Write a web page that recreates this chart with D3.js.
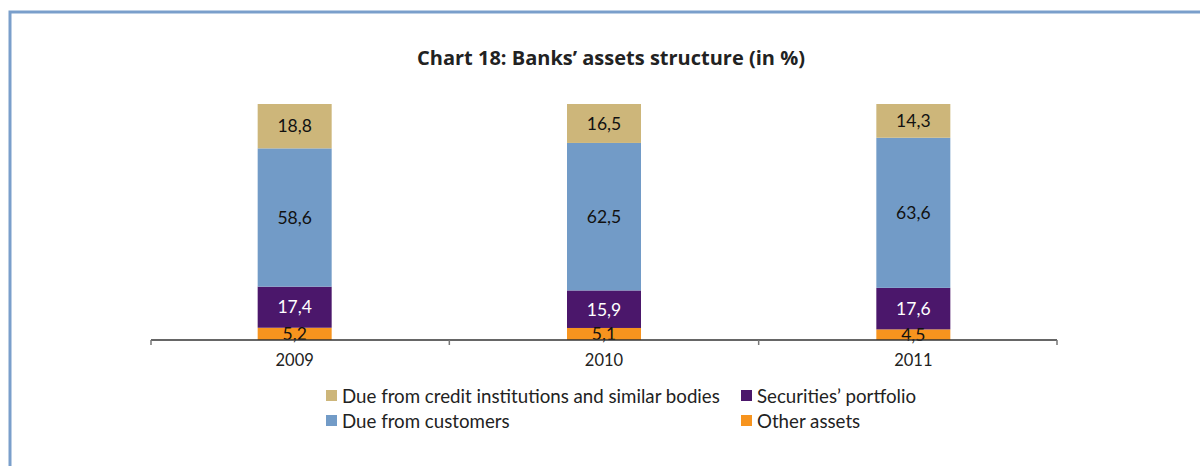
<!DOCTYPE html>
<html><head><meta charset="utf-8">
<script src="https://cdn.jsdelivr.net/npm/d3@7"></script>
<style>body{margin:0;background:#fff}svg{display:block}text{font-family:Lato,"Noto Sans",sans-serif}</style>
</head><body>
<svg id="c" width="1200" height="466"></svg>
<script>
const years = ["2009", "2010", "2011"];
const seriesNames = ["Other assets", "Securities’ portfolio", "Due from customers", "Due from credit institutions and similar bodies"];
const otherAssets = [5.2, 5.1, 4.5];
const securities = [17.4, 15.9, 17.6];
const dueCustomers = [58.6, 62.5, 63.6];
const dueCredit = [18.8, 16.5, 14.3];
const colors = ["#f7941e", "#4b176b", "#729bc7", "#cdb67a"];
const labelColors = ["#111", "#fff", "#111", "#111"];

const svg = d3.select("#c");
// frame
svg.append("rect").attr("x", 10).attr("y", 12).attr("width", 1200).attr("height", 470)
  .attr("fill", "none").attr("stroke", "#7a9fcb").attr("stroke-width", 3);

svg.append("text").attr("x", 611).attr("y", 65).attr("text-anchor", "middle")
  .style("font-family", "'Open Sans', sans-serif")
  .attr("font-weight", "bold").attr("font-size", 20).attr("fill", "#222")
  .text("Chart 18: Banks’ assets structure (in %)");

const x = d3.scaleBand().domain(years).range([140, 1068]);
const y = d3.scaleLinear().domain([0, 100]).range([340, 104]);
const barW = 74;

const rows = years.map((yr, i) => ({year: yr, v0: otherAssets[i], v1: securities[i], v2: dueCustomers[i], v3: dueCredit[i]}));
const stack = d3.stack().keys(["v0", "v1", "v2", "v3"])(rows);

const g = svg.append("g");
stack.forEach((layer, li) => {
  g.selectAll(null).data(layer).enter().append("rect")
    .attr("x", d => x(d.data.year) + x.bandwidth() / 2 - barW / 2)
    .attr("width", barW)
    .attr("y", d => y(d[1]))
    .attr("height", d => y(d[0]) - y(d[1]))
    .attr("fill", colors[li]);
});
stack.forEach((layer, li) => {
  g.selectAll(null).data(layer).enter().append("text")
    .attr("x", d => x(d.data.year) + x.bandwidth() / 2)
    .attr("y", d => (y(d[0]) + y(d[1])) / 2)
    .attr("dy", "0.36em")
    .attr("text-anchor", "middle").attr("font-size", 17.5)
    .attr("fill", labelColors[li])
    .text(d => (d[1] - d[0]).toFixed(1).replace(".", ","));
});

// axis
const axisG = svg.append("g");
axisG.append("line").attr("x1", 151).attr("x2", 1057).attr("y1", 340).attr("y2", 340)
  .attr("stroke", "#333").attr("stroke-width", 1.5);
const tickXs = [151].concat(years.slice(1).map(yr => x(yr))).concat([1057]);
axisG.selectAll(null).data(tickXs).enter().append("line")
  .attr("x1", d => d).attr("x2", d => d).attr("y1", 340).attr("y2", 345)
  .attr("stroke", "#777").attr("stroke-width", 1.5);
axisG.selectAll(null).data(years).enter().append("text")
  .attr("x", d => x(d) + x.bandwidth() / 2).attr("y", 366)
  .attr("text-anchor", "middle").attr("font-size", 16.5).attr("fill", "#222").text(d => d);

// legend
const legendItems = [
  {name: seriesNames[3], color: colors[3], lx: 326, ly: 396},
  {name: seriesNames[1], color: colors[1], lx: 741, ly: 396},
  {name: seriesNames[2], color: colors[2], lx: 326, ly: 421},
  {name: seriesNames[0], color: colors[0], lx: 741, ly: 421}
];
const lg = svg.append("g");
legendItems.forEach(it => {
  lg.append("rect").attr("x", it.lx).attr("y", it.ly - 6).attr("width", 11).attr("height", 11).attr("fill", it.color);
  lg.append("text").attr("x", it.lx + 16).attr("y", it.ly).attr("dy", "0.36em")
    .attr("font-size", 18.7).attr("fill", "#222").text(it.name);
});
</script>
</body></html>
